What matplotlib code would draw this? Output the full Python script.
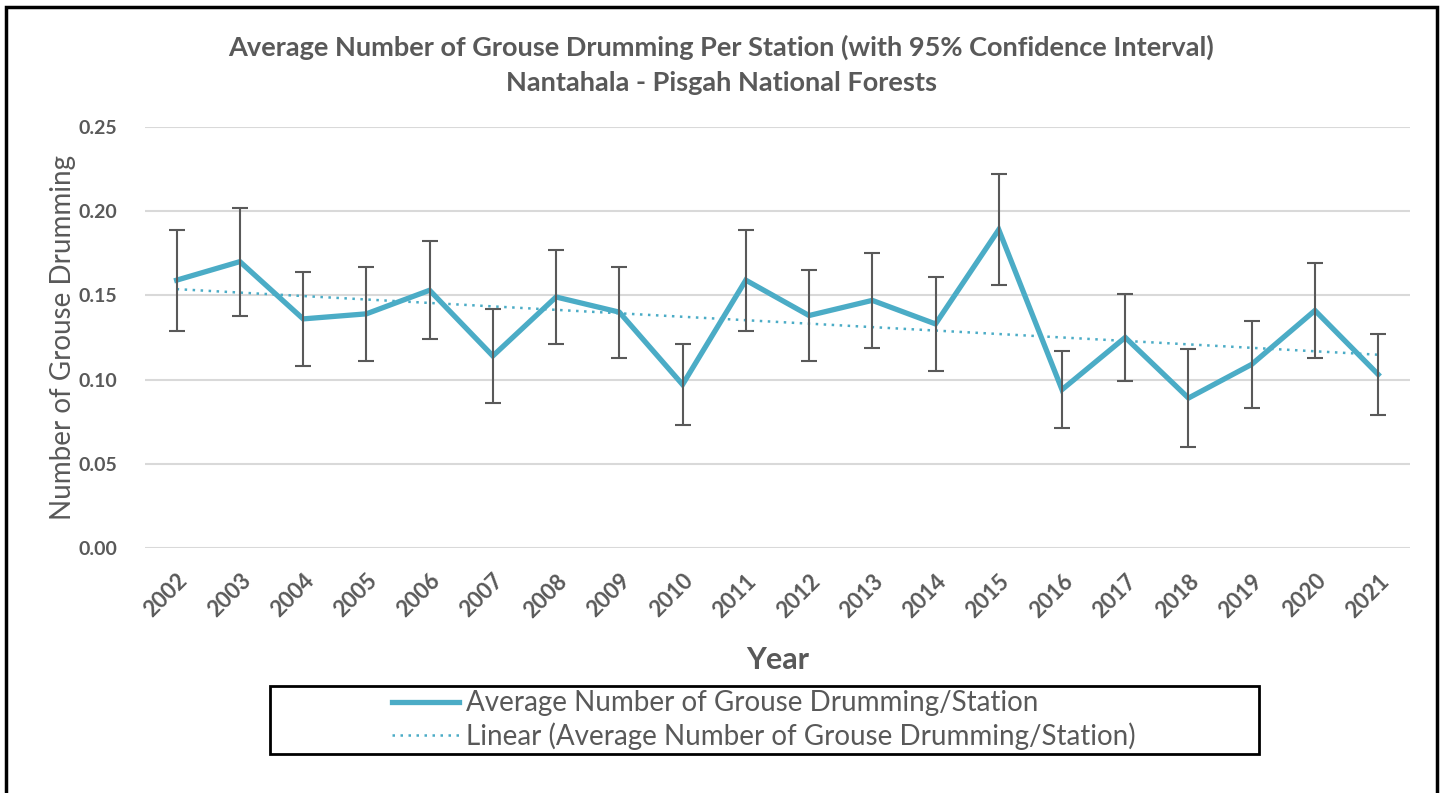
import numpy as np
import matplotlib.pyplot as plt
from matplotlib.patches import Rectangle

# data
years = ['2002', '2003', '2004', '2005', '2006', '2007', '2008', '2009', '2010', '2011',
         '2012', '2013', '2014', '2015', '2016', '2017', '2018', '2019', '2020', '2021']
avg = [0.159, 0.170, 0.136, 0.139, 0.153, 0.114, 0.149, 0.140, 0.097, 0.159,
       0.138, 0.147, 0.133, 0.189, 0.094, 0.125, 0.089, 0.109, 0.141, 0.103]
ci = [0.030, 0.032, 0.028, 0.028, 0.029, 0.028, 0.028, 0.027, 0.024, 0.030,
      0.027, 0.028, 0.028, 0.033, 0.023, 0.026, 0.029, 0.026, 0.028, 0.024]

plt.rcParams['font.family'] = ['Lato', 'DejaVu Sans']
grey = '#595959'
blue = '#4BACC6'

fig = plt.figure(figsize=(14.43, 7.93), dpi=100)
ax = fig.add_axes([0.1005, 0.309, 0.8765, 0.531])

x = np.arange(len(years))
line, = ax.plot(x, avg, color=blue, lw=3.8, solid_joinstyle='miter', zorder=3,
                label='Average Number of Grouse Drumming/Station')
ax.errorbar(x, avg, yerr=ci, fmt='none', ecolor=grey, elinewidth=1.5,
            capsize=6, capthick=1.5, zorder=4)

# linear trendline
k, b = np.polyfit(x, avg, 1)
trend, = ax.plot(x, k * x + b, color=blue, lw=1.8, ls=(0, (1, 2.2)), zorder=2,
                 label='Linear (Average Number of Grouse Drumming/Station)')

ax.set_xlim(-0.5, len(years) - 0.5)
ax.set_ylim(0, 0.25)
ax.set_yticks(np.arange(0, 0.26, 0.05))
ax.set_yticklabels(['%.2f' % v for v in np.arange(0, 0.26, 0.05)])
ax.set_xticks(x)
ax.set_xticklabels(years, rotation=45, ha='right', rotation_mode='anchor')
ax.yaxis.grid(True, color='#D9D9D9', lw=1.5)
ax.set_axisbelow(True)
for s in ax.spines.values():
    s.set_visible(False)
ax.tick_params(length=0, colors=grey)
ax.tick_params(axis='y', pad=20, labelsize=14)
ax.tick_params(axis='x', pad=16, labelsize=16)
for t in ax.get_xticklabels() + ax.get_yticklabels():
    t.set_fontweight('bold')

ax.set_ylabel('Number of Grouse Drumming', fontsize=20, color=grey, labelpad=2)
ax.set_xlabel('Year', fontsize=22, color=grey, fontweight='bold', labelpad=18)

fig.text(0.5, 0.940, 'Average Number of Grouse Drumming Per Station (with 95% Confidence Interval)',
         ha='center', va='center', fontsize=19.5, fontweight='bold', color=grey)
fig.text(0.5, 0.895, 'Nantahala - Pisgah National Forests',
         ha='center', va='center', fontsize=19.5, fontweight='bold', color=grey)

# legend with outlined box
fig.legend(handles=[line, trend], loc='center left', bbox_to_anchor=(392 / 1443, 1 - 720 / 793),
           frameon=False, fontsize=20, labelcolor=grey, handlelength=2.4,
           handletextpad=0.25, labelspacing=0.2, borderpad=0, borderaxespad=0)
fig.patches.append(Rectangle((270 / 1443, 1 - 754 / 793), 989 / 1443, 68 / 793,
                             transform=fig.transFigure, fill=False, ec='black', lw=2))

# outer border
fig.patches.append(Rectangle((6 / 1443, -0.05), 1431 / 1443, 1.05 - 7 / 793,
                             transform=fig.transFigure, fill=False, ec='black', lw=2.5))

fig.savefig('out.png', dpi=100)
